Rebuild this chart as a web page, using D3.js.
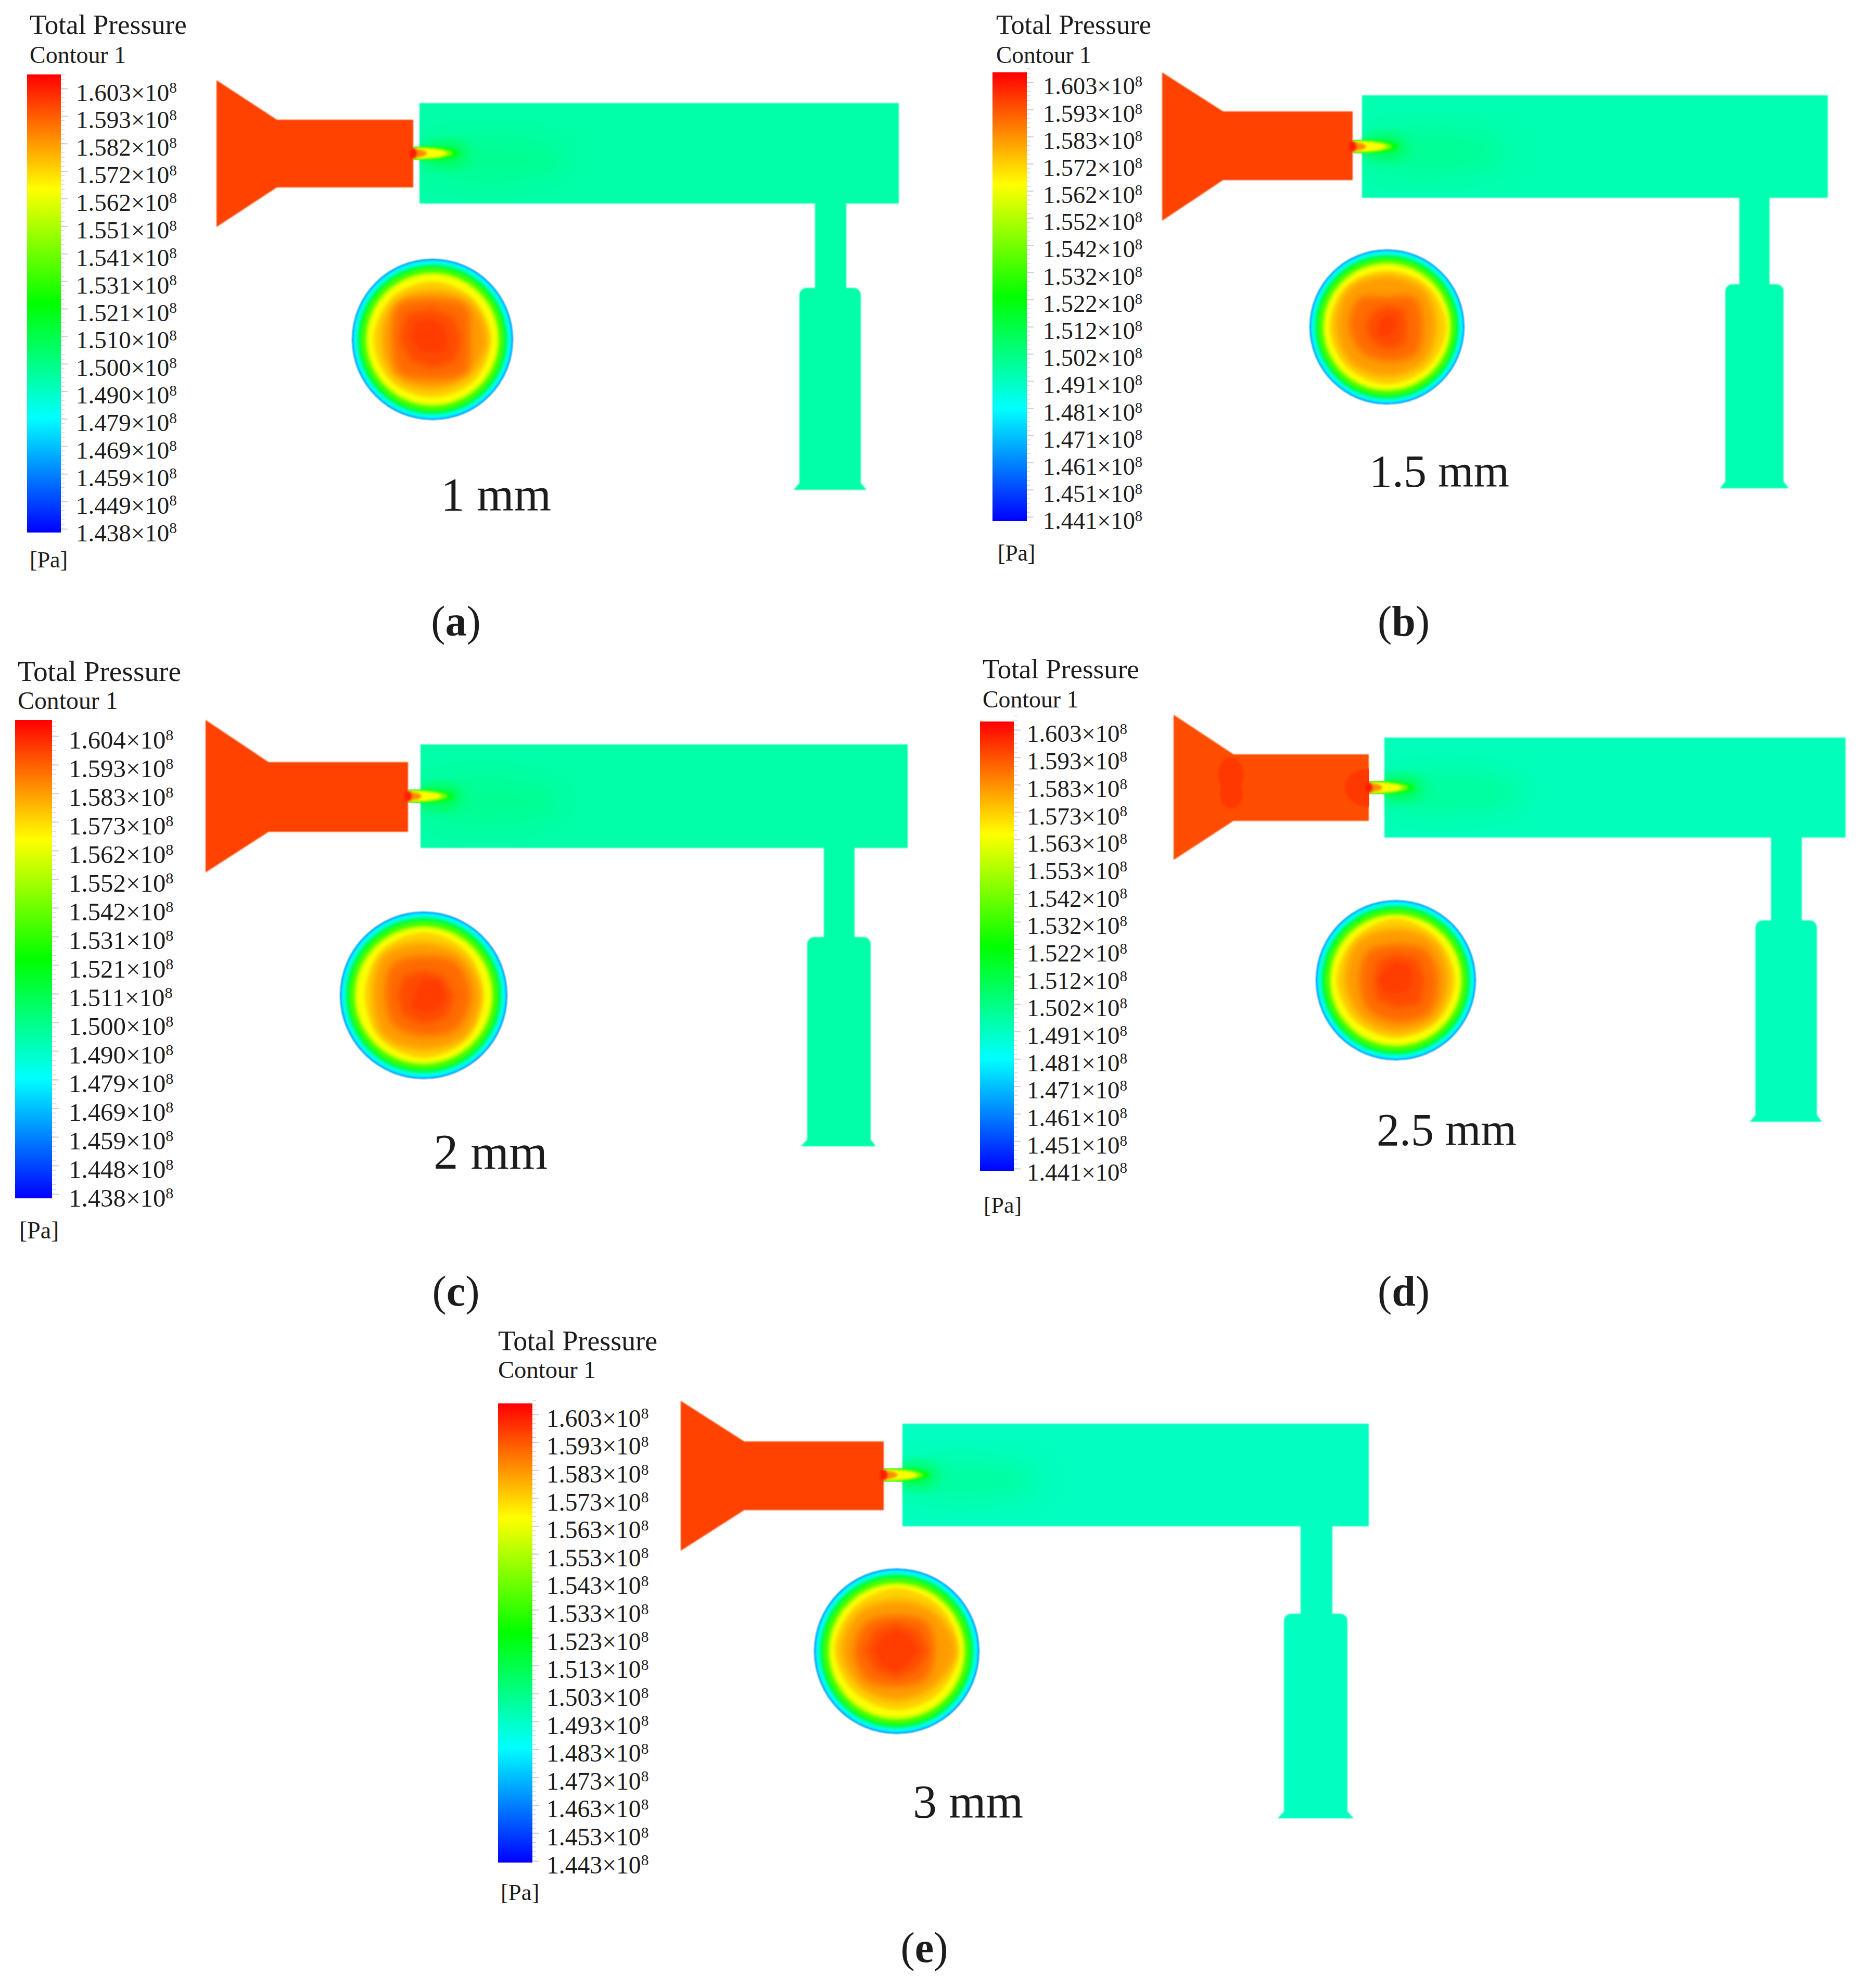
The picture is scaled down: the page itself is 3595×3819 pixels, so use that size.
<html>
<head>
<meta charset="utf-8">
<title>Total Pressure contours</title>
<script src="https://cdn.jsdelivr.net/npm/d3@7"></script>
<style>
    body { margin: 0; background: white; }
    text { font-family: "Liberation Serif", serif; fill: #1c1c1c; }
</style>
</head>
<body>
<div id="chart"></div>
<script>
    // tick labels of each legend (x 10^8 Pa)
    let labelsA = ["1.603","1.593","1.582","1.572","1.562","1.551","1.541","1.531","1.521","1.510","1.500","1.490","1.479","1.469","1.459","1.449","1.438"];
    let labelsB = ["1.603","1.593","1.583","1.572","1.562","1.552","1.542","1.532","1.522","1.512","1.502","1.491","1.481","1.471","1.461","1.451","1.441"];
    let labelsC = ["1.604","1.593","1.583","1.573","1.562","1.552","1.542","1.531","1.521","1.511","1.500","1.490","1.479","1.469","1.459","1.448","1.438"];
    let labelsD = ["1.603","1.593","1.583","1.573","1.563","1.553","1.542","1.532","1.522","1.512","1.502","1.491","1.481","1.471","1.461","1.451","1.441"];
    let labelsE = ["1.603","1.593","1.583","1.573","1.563","1.553","1.543","1.533","1.523","1.513","1.503","1.493","1.483","1.473","1.463","1.453","1.443"];

    let gapsMm = [1, 1.5, 2, 2.5, 3];
    let gapNames = ["1 mm", "1.5 mm", "2 mm", "2.5 mm", "3 mm"];
    let panelTags = ["a", "b", "c", "d", "e"];

    // pressure, 10^8 Pa
    let nozzleValues = [1.597, 1.597, 1.597, 1.595, 1.597];
    let chamberValues = [1.495, 1.4936, 1.495, 1.492, 1.491];

    // iso-lines of the section disc: value and radius as a share of the disc radius
    let rimLevels = [1.468, 1.478, 1.484, 1.502, 1.523, 1.545, 1.560];
    let rimRadii = [0.99, 0.975, 0.945, 0.92, 0.885, 0.83, 0.80];
    let coreLevels = [1.569, 1.577, 1.587, 1.593, 1.598];
    // radii clockwise from the top: N NE E SE S SW W NW
    let coreA = [
        [.72,.71,.72,.73,.72,.73,.73,.72],
        [.61,.66,.68,.64,.62,.66,.63,.66],
        [.50,.58,.47,.58,.50,.58,.50,.60],
        [.38,.38,.36,.40,.36,.38,.41,.46],
        [.25,.21,.19,.22,.17,.21,.26,.30]];
    let coreB = [
        [.72,.74,.77,.74,.74,.73,.74,.73],
        [.66,.68,.64,.66,.64,.66,.66,.70],
        [.39,.52,.46,.51,.44,.46,.48,.51],
        [.28,.32,.26,.32,.30,.27,.28,.27],
        [.17,.16,.12,.10,.12,.16,.12,.12]];
    let coreC = [
        [.75,.73,.71,.73,.75,.73,.70,.73],
        [.63,.66,.68,.70,.65,.68,.61,.68],
        [.47,.55,.56,.56,.49,.50,.46,.52],
        [.30,.33,.37,.38,.35,.34,.32,.33],
        [.20,.26,.27,.24,.20,.20,.11,.12]];
    let coreD = [
        [.77,.73,.74,.73,.72,.72,.74,.73],
        [.65,.68,.66,.68,.65,.64,.64,.68],
        [.45,.53,.53,.58,.52,.50,.45,.50],
        [.34,.38,.37,.43,.35,.34,.28,.33],
        [.23,.26,.20,.20,.17,.20,.23,.20]];
    let coreE = [
        [.76,.75,.75,.72,.71,.71,.75,.74],
        [.62,.66,.72,.62,.60,.62,.67,.66],
        [.43,.50,.46,.48,.43,.50,.52,.50],
        [.35,.36,.38,.33,.33,.35,.40,.38],
        [.26,.25,.25,.20,.26,.25,.27,.25]];

    // jet leaving the nozzle: value, reach and half width in px
    let jetValues = [1.523, 1.545, 1.566, 1.585];
    let jetReach = [88, 76, 64, 26];
    let jetHalf = [13, 12, 10, 8];

    let rainbow = d3.scaleLinear()
        .domain([1.608, 1.5655, 1.523, 1.4805, 1.438])
        .range(["#ff0000", "#ffff00", "#00ff00", "#00ffff", "#0000ff"]);

    // where each panel sits on the page
    let layouts = [
        { bar:[52,117,143,1023], ticks:[178,1024], labelX:146, titleX:57, titleY:65, contourY:121, paX:57, paY:1090,
          cone:[416,154,436], neck:[532,230,360], noz:794, cham:[1727,198,391], stem:[1566,1626], lower:[1536,1654,553,941,1525,1665],
          disc:[831,652,155], nameXY:[847,981], tagXY:[876,1221], nameSize:92 },
        { bar:[1907,1973,139,1001], ticks:[166,1001], labelX:2004, titleX:1914, titleY:65, contourY:121, paX:1917, paY:1077,
          cone:[2233,139,424], neck:[2350,214,346], noz:2599, cham:[3512,183,380], stem:[3342,3400], lower:[3315,3427,546,938,3305,3437],
          disc:[2665,628,149], nameXY:[2631,935], tagXY:[2697,1221], nameSize:88 },
        { bar:[29,100,1383,2302], ticks:[1422,2302], labelX:132, titleX:34, titleY:1308, contourY:1362, paX:37, paY:2379,
          cone:[395,1383,1676], neck:[516,1464,1598], noz:784, cham:[1744,1430,1629], stem:[1583,1642], lower:[1551,1673,1800,2202,1539,1683],
          disc:[814,1912,161], nameXY:[833,2245], tagXY:[876,2508], nameSize:95 },
        { bar:[1883,1948,1386,2250], ticks:[1410,2253], labelX:1973, titleX:1888, titleY:1303, contourY:1359, paX:1890, paY:2330,
          cone:[2255,1373,1652], neck:[2370,1449,1577], noz:2630, cham:[3546,1417,1609], stem:[3403,3462], lower:[3373,3491,1768,2155,3362,3501],
          disc:[2682,1883,154], nameXY:[2645,2200], tagXY:[2697,2508], nameSize:88 },
        { bar:[957,1023,2696,3578], ticks:[2725,3583], labelX:1050, titleX:957, titleY:2594, contourY:2647, paX:962, paY:3650,
          cone:[1308,2691,2979], neck:[1430,2769,2901], noz:1698, cham:[2630,2735,2932], stem:[2499,2560], lower:[2467,2589,3100,3493,2455,2601],
          disc:[1723,3172,159], nameXY:[1754,3492], tagXY:[1776,3769], nameSize:92 }
    ];

    let allLabels = [labelsA, labelsB, labelsC, labelsD, labelsE];
    let allCores = [coreA, coreB, coreC, coreD, coreE];
    let gapScale = d3.scaleLinear().domain([0, 3]).range([0, 36]);
    let compass = d3.scalePoint().domain(d3.range(8)).range([0, Math.PI * 2 * 7 / 8]);

    let svg = d3.select("#chart").append("svg")
        .attr("width", 3595).attr("height", 3819)
        .style("display", "block");
    let defs = svg.append("defs");

    function addBlur(id, dev) {
        defs.append("filter").attr("id", id)
            .attr("x", "-40%").attr("y", "-40%").attr("width", "180%").attr("height", "180%")
            .append("feGaussianBlur").attr("stdDeviation", dev);
    }
    addBlur("soft", 1);
    addBlur("blurS", 2);
    addBlur("blurM", 3);
    addBlur("blurL", 7);
    addBlur("blurH", 14);
    addBlur("blurX", 26);

    let gradient = defs.append("linearGradient").attr("id", "barFill")
        .attr("x1", 0).attr("x2", 0).attr("y1", 0).attr("y2", 1);
    rainbow.domain().forEach((v, i) => {
        gradient.append("stop").attr("offset", i / 4).attr("stop-color", rainbow(v));
    });

    function drawLegend(g, labels, lay) {
        let [x0, x1, y0, y1] = lay.bar;
        let fs = (lay.ticks[1] - lay.ticks[0]) / 16 / 52.9;
        g.append("text").attr("x", lay.titleX).attr("y", lay.titleY).attr("font-size", 53.2 * fs).text("Total Pressure");
        g.append("text").attr("x", lay.titleX).attr("y", lay.contourY).attr("font-size", 46 * fs).text("Contour 1");
        g.append("text").attr("x", lay.paX).attr("y", lay.paY).attr("font-size", 44 * fs).text("[Pa]");

        g.append("rect").attr("x", x0).attr("y", y0).attr("width", x1 - x0).attr("height", y1 - y0)
            .attr("fill", "url(#barFill)");

        // ticks sit a little above the middle of their labels
        let lift = 8;
        let yPoint = d3.scalePoint().domain(labels).range(lay.ticks);
        let minorY = d3.scaleLinear().domain([0, 16]).range([lay.ticks[0] - lift, lay.ticks[1] - lift]);
        g.selectAll(".minor").data(d3.range(-3, 97).map(d => d / 6))
            .enter().append("line").attr("class", "minor")
            .attr("x1", x1).attr("x2", x1 + 7)
            .attr("y1", d => minorY(d)).attr("y2", d => minorY(d))
            .attr("stroke", "#d8d8d8").attr("stroke-width", 1.5);

        let axis = d3.axisRight(yPoint).tickSize(13).tickPadding(lay.labelX - x1 - 13);
        let ag = g.append("g").attr("transform", "translate(" + [x1, -lift] + ")").call(axis);
        ag.select(".domain").remove();
        ag.selectAll("line").attr("stroke", "#cfcfcf").attr("stroke-width", 2);
        ag.selectAll("text")
            .attr("font-size", 47 * fs).attr("fill", "#1c1c1c")
            .attr("dy", (lift + 15 * fs) + "px")
            .text(d => d + "\u00d710")
            .append("tspan").attr("dy", "-0.52em").attr("font-size", "0.62em").text("8");
        ag.attr("font-family", null).attr("font-size", null);
    }

    function drawDomain(g, i, lay) {
        let noz = lay.noz;
        let chamL = noz + gapScale(gapsMm[i]);
        let [chamR, chamT, chamB] = lay.cham;
        let midY = (chamT + chamB) / 2;
        let [coneL, coneT, coneB] = lay.cone;
        let [neckX, neckT, neckB] = lay.neck;
        let [lowL, lowR, lowT, lowB, flareL, flareR] = lay.lower;
        let line = d3.line();

        let nozzlePts = [[coneL,coneT],[neckX,neckT],[noz,neckT],[noz,neckB],[neckX,neckB],[coneL,coneB]];
        let flareY = lowB - 13;

        let outlet = d3.path();
        outlet.moveTo(lowL, lowT + 14);
        outlet.arcTo(lowL, lowT, lowL + 14, lowT, 14);
        outlet.lineTo(lowR - 14, lowT);
        outlet.arcTo(lowR, lowT, lowR, lowT + 14, 14);
        outlet.lineTo(lowR, flareY);
        outlet.lineTo(flareR, lowB);
        outlet.lineTo(flareL, lowB);
        outlet.lineTo(lowL, flareY);
        outlet.closePath();

        let body = g.append("g").attr("filter", "url(#soft)");
        body.append("path").attr("d", line(nozzlePts) + "Z").attr("fill", rainbow(nozzleValues[i]));
        body.append("rect").attr("x", chamL).attr("y", chamT).attr("width", chamR - chamL).attr("height", chamB - chamT)
            .attr("fill", rainbow(chamberValues[i]));
        body.append("rect").attr("x", lay.stem[0]).attr("y", chamB - 1).attr("width", lay.stem[1] - lay.stem[0]).attr("height", lowT - chamB + 2)
            .attr("fill", rainbow(chamberValues[i]));
        body.append("path").attr("d", outlet.toString()).attr("fill", rainbow(chamberValues[i]));

        // nozzle clip, for whatever stays inside the nozzle
        let nozClip = defs.append("clipPath").attr("id", "n" + i);
        nozClip.append("path").attr("d", line(nozzlePts) + "Z");
        nozClip.append("rect").attr("x", noz - 1).attr("y", midY - 13).attr("width", chamL - noz + 2).attr("height", 26);

        // jet is only visible past the nozzle exit: the gap and the chamber
        let clip = defs.append("clipPath").attr("id", "p" + i);
        clip.append("rect").attr("x", noz).attr("y", midY - 13).attr("width", chamL - noz + 1).attr("height", 26);
        clip.append("rect").attr("x", chamL).attr("y", chamT).attr("width", chamR - chamL).attr("height", chamB - chamT);

        if (panelTags[i] === "d") {
            // panel d shows patches of hotter fluid in its nozzle
            let spots = g.append("g").attr("clip-path", "url(#n" + i + ")").append("g").attr("filter", "url(#blurS)");
            spots.append("ellipse").attr("cx", noz).attr("cy", midY).attr("rx", 46).attr("ry", 37).attr("fill", rainbow(1.5985));
            spots.append("ellipse").attr("cx", neckX - 5).attr("cy", midY - 25).attr("rx", 25).attr("ry", 32).attr("fill", rainbow(1.5985));
            spots.append("ellipse").attr("cx", neckX - 4).attr("cy", midY + 12).attr("rx", 22).attr("ry", 28).attr("fill", rainbow(1.5985));
        }

        let jet = g.append("g").attr("clip-path", "url(#p" + i + ")");
        jet.append("ellipse").attr("cx", noz + 150).attr("cy", midY + 10).attr("rx", 150).attr("ry", 42)
            .attr("fill", rainbow(1.505)).attr("filter", "url(#blurX)").attr("opacity", 0.4);
        jet.append("ellipse").attr("cx", noz + 62).attr("cy", midY + 1).attr("rx", 40).attr("ry", 20)
            .attr("fill", rainbow(1.516)).attr("filter", "url(#blurH)").attr("opacity", 0.85);
        jet.append("rect").attr("x", noz).attr("y", midY - 13).attr("width", chamL - noz).attr("height", 26)
            .attr("fill", rainbow(1.5)).attr("filter", "url(#soft)");
        jet.selectAll(".plume").data(jetValues).enter().append("ellipse").attr("class", "plume")
            .attr("cx", noz).attr("cy", midY)
            .attr("rx", (d, k) => jetReach[k]).attr("ry", (d, k) => jetHalf[k])
            .attr("fill", d => rainbow(d))
            .attr("filter", (d, k) => k === 0 ? "url(#blurM)" : "url(#blurS)");

        // small red spot right at the exit
        g.append("g").attr("clip-path", "url(#n" + i + ")").append("ellipse")
            .attr("cx", noz).attr("cy", midY).attr("rx", 7).attr("ry", 10)
            .attr("fill", rainbow(1.603)).attr("filter", "url(#blurS)");
    }

    function drawDisc(g, i, lay) {
        let [cx, cy, radius] = lay.disc;
        let rScale = d3.scaleLinear().domain([0, 1]).range([0, radius]);
        let clipId = "d" + i;
        defs.append("clipPath").attr("id", clipId).append("circle").attr("r", radius);

        let outer = g.append("g").attr("transform", "translate(" + [cx, cy] + ")").attr("filter", "url(#soft)");
        let disc = outer.append("g").attr("clip-path", "url(#" + clipId + ")");
        disc.append("circle").attr("r", radius).attr("fill", rainbow(1.452));

        let levels = rimLevels.concat(coreLevels);
        let fillFor = k => rainbow(k + 1 < levels.length ? (levels[k] + levels[k + 1]) / 2 : levels[k]);

        rimRadii.forEach((r, k) => {
            disc.append("circle").attr("r", rScale(r)).attr("fill", fillFor(k)).attr("filter", "url(#blurS)");
        });
        let ring = d3.lineRadial()
            .angle((d, k) => compass(k))
            .radius(d => rScale(d))
            .curve(d3.curveCatmullRomClosed);
        let facet = d3.lineRadial()
            .angle((d, k) => compass(k))
            .radius(d => rScale(d))
            .curve(d3.curveLinearClosed);
        allCores[i].forEach((radii, k) => {
            let path = k < 3 ? ring(radii) : facet(radii);
            let blur = k === 0 ? "url(#blurM)" : k < 4 ? "url(#blurL)" : "url(#blurM)";
            disc.append("path").attr("d", path).attr("fill", fillFor(k + rimLevels.length)).attr("filter", blur);
        });
    }

    layouts.forEach((lay, i) => {
        let g = svg.append("g");
        drawLegend(g, allLabels[i], lay);
        drawDomain(g, i, lay);
        drawDisc(g, i, lay);

        g.append("text").attr("x", lay.nameXY[0]).attr("y", lay.nameXY[1]).attr("font-size", lay.nameSize).text(gapNames[i]);
        let tag = g.append("text").attr("x", lay.tagXY[0]).attr("y", lay.tagXY[1])
            .attr("font-size", 82).attr("text-anchor", "middle");
        tag.append("tspan").text("(");
        tag.append("tspan").attr("font-weight", "bold").text(panelTags[i]);
        tag.append("tspan").text(")");
    });
</script>
</body>
</html>
